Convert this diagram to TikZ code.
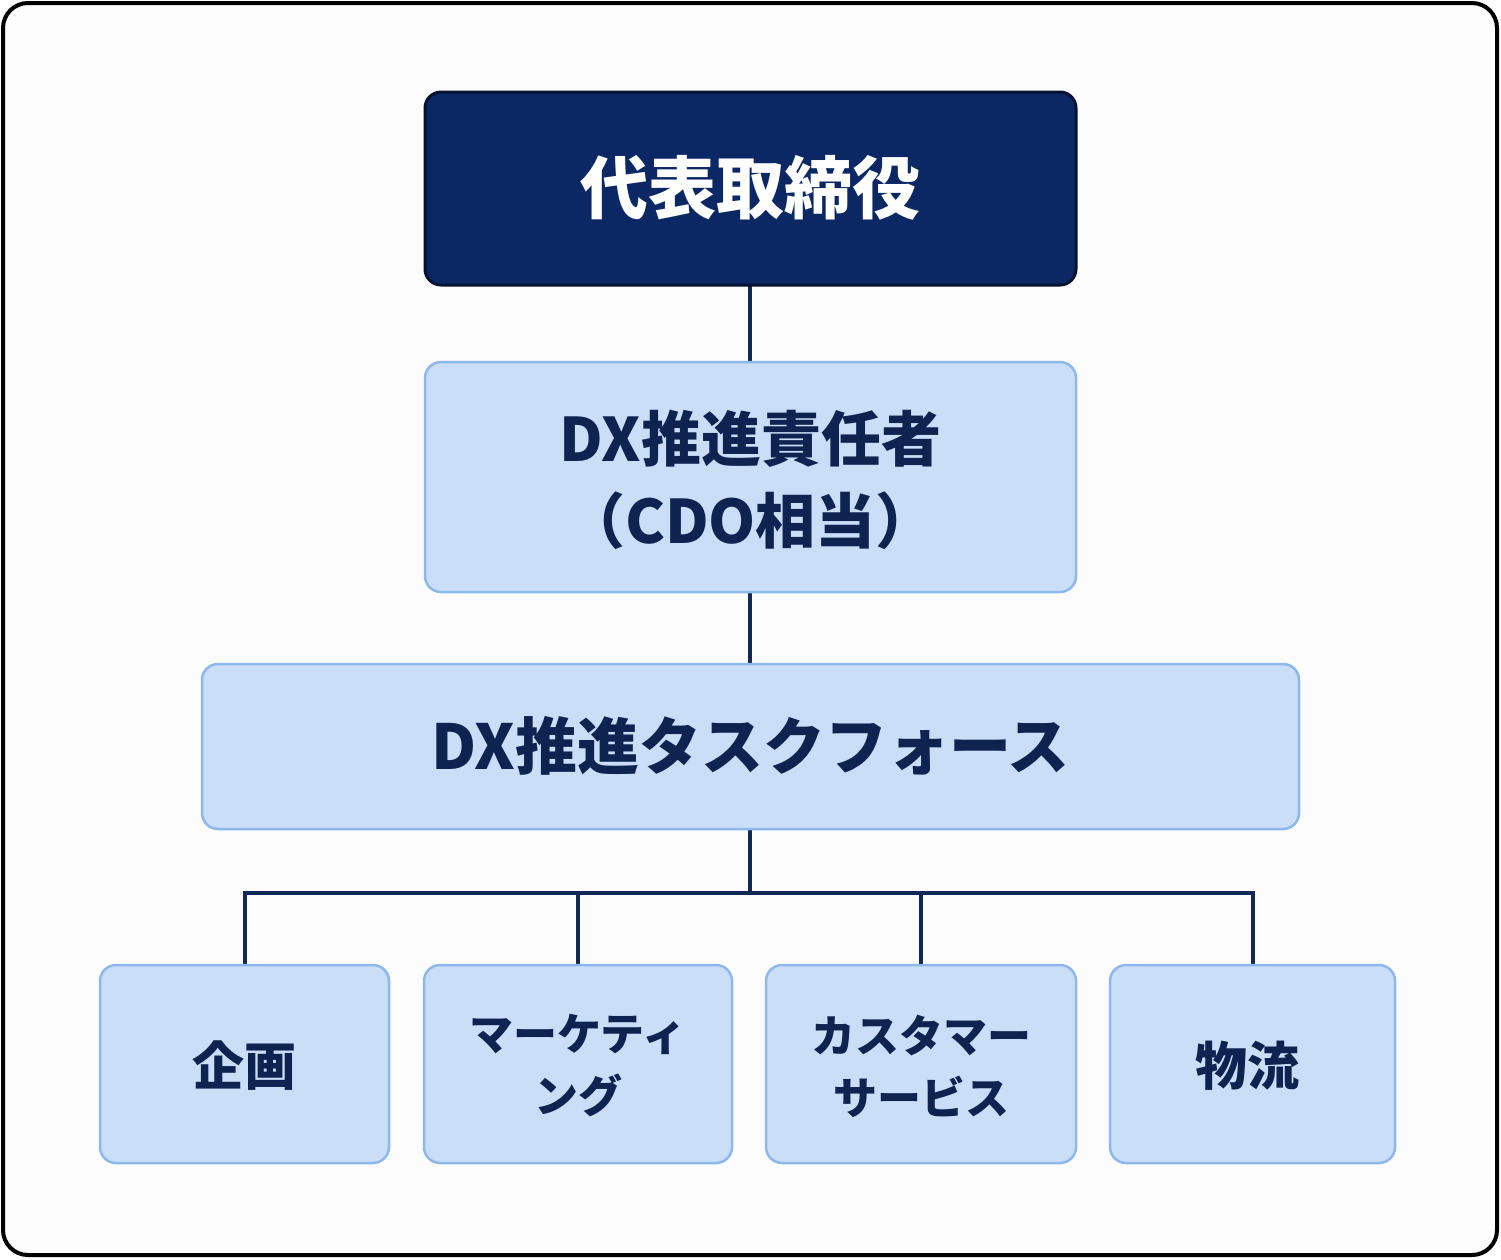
\documentclass[tikz,border=0pt]{standalone}
\usepackage{fontspec}
\setmainfont{Noto Sans CJK JP}
\begin{document}
\begin{tikzpicture}[x=1pt,y=-1pt,
  lbox/.style={draw=blue!10!cyan!30!blue!45!white, line width=2.5pt, fill={rgb,255:red,203;green,222;blue,248}, rounded corners=16pt, text={rgb,255:red,14;green,35;blue,80}, font=\bfseries, align=center, inner sep=0pt},
  conn/.style={draw={rgb,255:red,18;green,40;blue,85}, line width=4pt}]
\definecolor{navy}{RGB}{11,40,100}
\definecolor{lborder}{RGB}{141,184,236}
\tikzset{lbox/.append style={draw=lborder}}
\useasboundingbox (0,0) rectangle (1501,1259);
\draw[line width=4pt, rounded corners=25pt, fill={rgb,255:red,252;green,252;blue,253}] (3,3) rectangle (1497,1255);
% connectors
\coordinate (h1) at (750,893);
\draw[conn] (750,285) -- (750,362);
\draw[conn] (750,592) -- (750,664);
\draw[conn] (750,829) -- (h1);
\draw[conn] (245,965) -- (245,893) -- (1253,893) -- (1253,965);
\draw[conn] (578,893) -- (578,965);
\draw[conn] (921,893) -- (921,965);
% boxes
\draw[fill=navy, draw={rgb,255:red,6;green,18;blue,50}, line width=3pt, rounded corners=16pt] (425,92) rectangle (1076,285);
\node[text=white, font=\fontsize{68}{70}\selectfont\bfseries] (ceo) at (750.5,188) {代表取締役};
\draw[lbox] (425,362) rectangle (1076,592);
\node[lbox, draw=none, fill=none, font=\fontsize{60}{82}\selectfont\bfseries] (cdo) at (750.5,480) {DX推進責任者\\（CDO相当）};
\draw[lbox] (202,664) rectangle (1299,829);
\node[lbox, draw=none, fill=none, font=\fontsize{62}{64}\selectfont\bfseries] (tf) at (750.5,746) {DX推進タスクフォース};
\draw[lbox] (100,965) rectangle (389,1163);
\draw[lbox] (424,965) rectangle (732,1163);
\draw[lbox] (766,965) rectangle (1076,1163);
\draw[lbox] (1110,965) rectangle (1395,1163);
\node[lbox, draw=none, fill=none, font=\fontsize{52}{54}\selectfont\bfseries] (a) at (244.5,1066) {企画};
\node[lbox, draw=none, fill=none, font=\fontsize{44}{62}\selectfont\bfseries] (b) at (578,1066) {マーケティ\\ング};
\node[lbox, draw=none, fill=none, font=\fontsize{44}{62}\selectfont\bfseries] (c) at (921,1066) {カスタマー\\サービス};
\node[lbox, draw=none, fill=none, font=\fontsize{52}{54}\selectfont\bfseries] (d) at (1247,1066) {物流};
\end{tikzpicture}
\end{document}
